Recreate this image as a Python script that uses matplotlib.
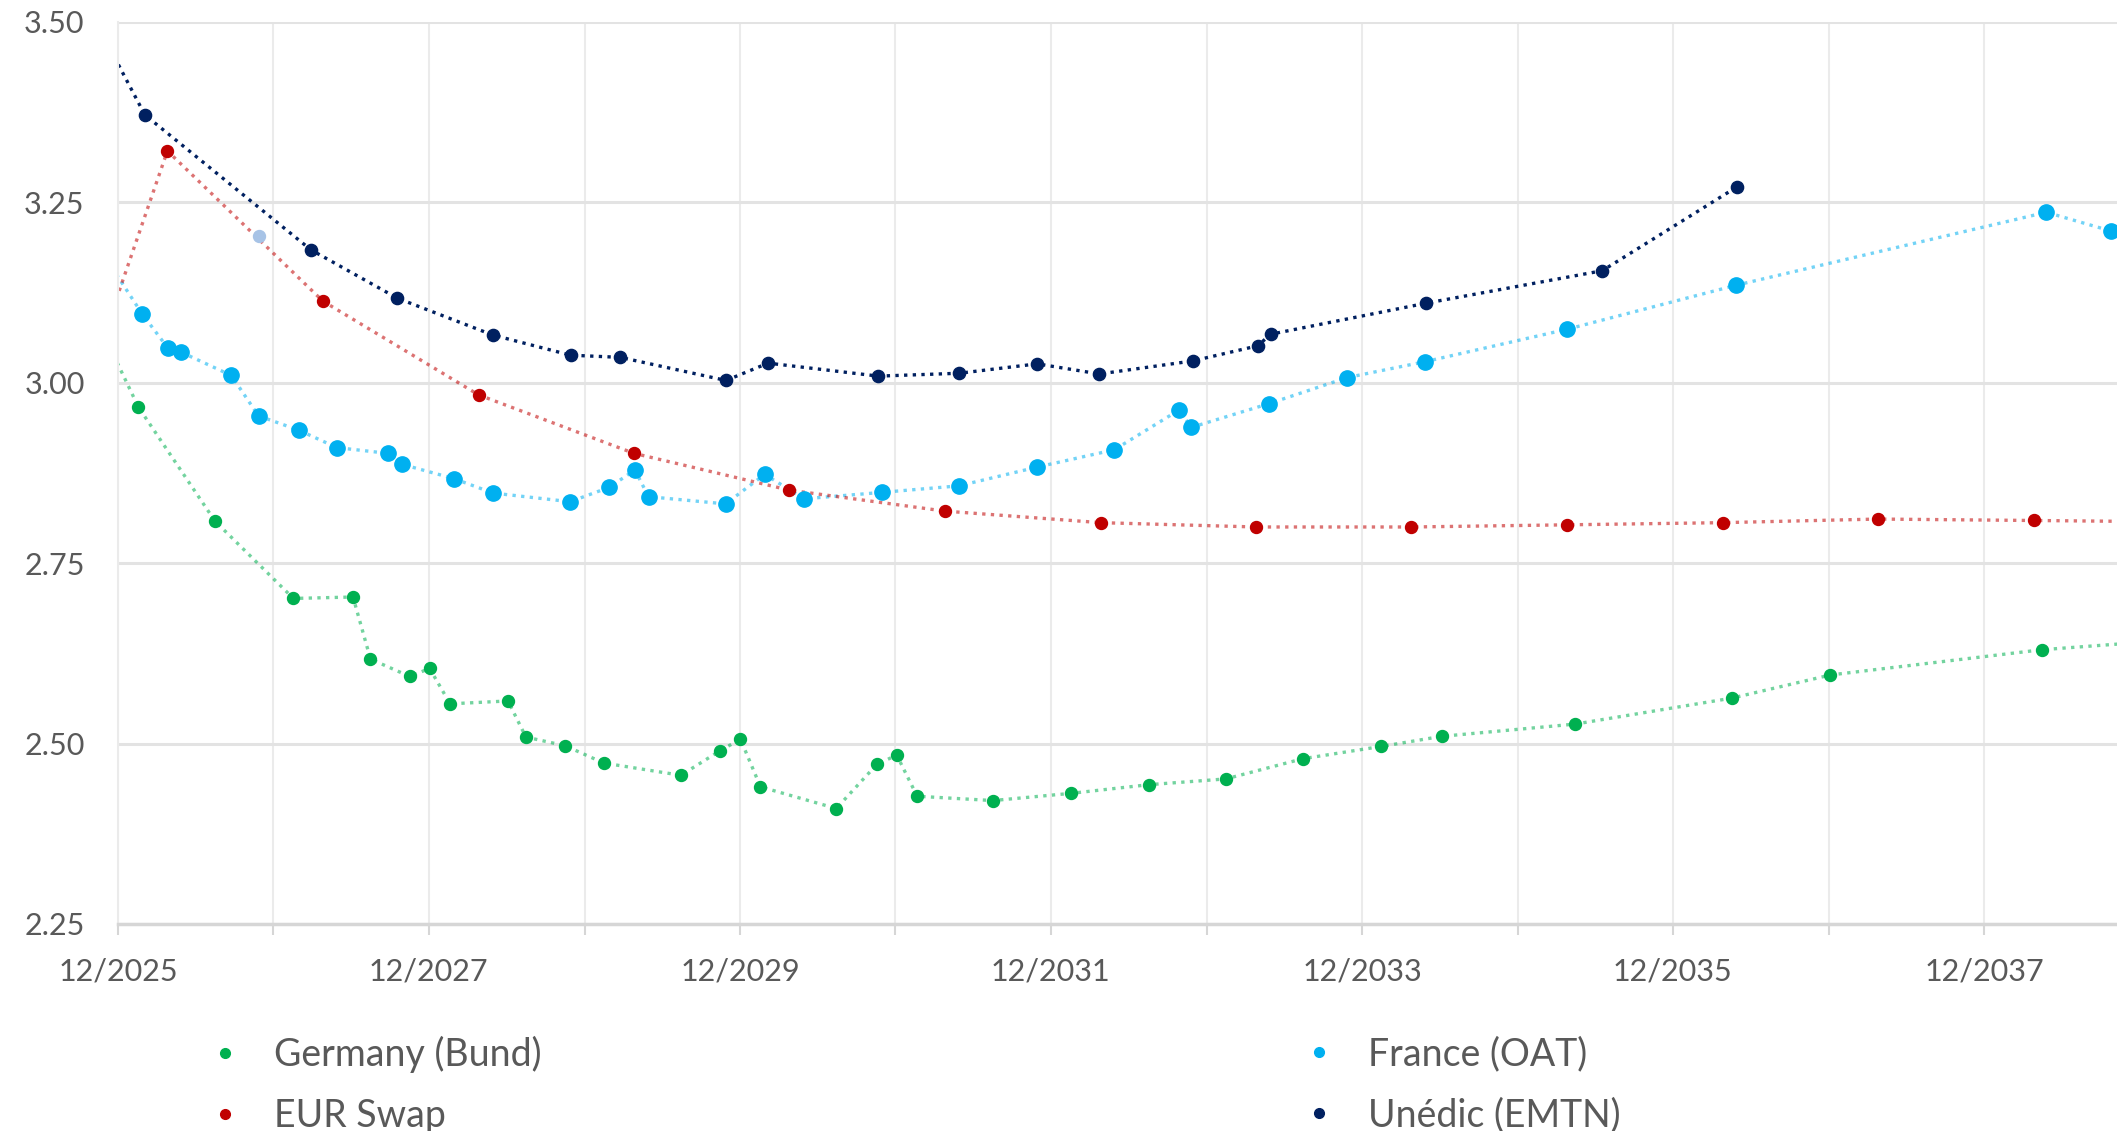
import matplotlib
matplotlib.use("Agg")
import matplotlib.pyplot as plt
import matplotlib.dates as mdates
from matplotlib.lines import Line2D
import pandas as pd

plt.rcParams["font.family"] = ["Lato", "DejaVu Sans"]

# courbes de taux (%)
bund_dates = ["2025-10-25", "2026-01-18", "2026-07-17", "2027-01-17", "2027-06-06", "2027-07-17",
              "2027-10-17", "2027-12-03", "2028-01-20", "2028-06-04", "2028-07-16", "2028-10-16",
              "2029-01-15", "2029-07-15", "2029-10-15", "2029-12-02", "2030-01-18", "2030-07-15",
              "2030-10-18", "2030-12-04", "2031-01-21", "2031-07-18", "2032-01-17", "2032-07-18",
              "2033-01-15", "2033-07-15", "2034-01-15", "2034-06-06", "2035-04-16", "2036-04-18",
              "2036-12-05", "2038-04-16", "2039-06-01"]
bund_yield = [3.071, 2.966, 2.808, 2.701, 2.703, 2.617, 2.593, 2.604, 2.555, 2.559, 2.509, 2.497,
              2.473, 2.456, 2.490, 2.506, 2.440, 2.410, 2.471, 2.484, 2.427, 2.421, 2.431, 2.443,
              2.451, 2.479, 2.496, 2.510, 2.527, 2.563, 2.595, 2.630, 2.648]

oat_dates = ["2025-10-25", "2026-01-27", "2026-03-28", "2026-04-29", "2026-08-24", "2026-10-27",
             "2027-01-30", "2027-04-29", "2027-08-27", "2027-09-28", "2028-01-29", "2028-04-30",
             "2028-10-28", "2029-01-28", "2029-03-29", "2029-04-30", "2029-10-28", "2030-01-28",
             "2030-04-30", "2030-10-31", "2031-04-29", "2031-10-30", "2032-04-28", "2032-09-27",
             "2032-10-26", "2033-04-27", "2033-10-27", "2034-04-28", "2035-03-28", "2036-04-28",
             "2038-04-26", "2038-09-25"]
oat_yield = [3.180, 3.095, 3.048, 3.042, 3.010, 2.954, 2.934, 2.910, 2.902, 2.887, 2.867, 2.847,
             2.835, 2.855, 2.879, 2.842, 2.832, 2.873, 2.839, 2.848, 2.857, 2.883, 2.907, 2.962,
             2.938, 2.971, 3.007, 3.029, 3.074, 3.135, 3.236, 3.210]

swap_dates = ["2025-10-25", "2026-03-27", "2027-03-27", "2028-03-27", "2029-03-27", "2030-03-27",
              "2031-03-27", "2032-03-27", "2033-03-27", "2034-03-27", "2035-03-27", "2036-03-27",
              "2037-03-27", "2038-03-27", "2039-03-27"]
swap_yield = [3.059, 3.321, 3.113, 2.983, 2.902, 2.851, 2.822, 2.806, 2.800, 2.800, 2.803, 2.806,
              2.811, 2.809, 2.807]

unedic_dates = ["2025-10-25", "2026-02-02", "2027-02-27", "2027-09-18", "2028-04-29", "2028-10-29",
                "2029-02-23", "2029-10-29", "2030-02-05", "2030-10-22", "2031-04-30", "2031-10-30",
                "2032-03-24", "2032-10-29", "2033-03-31", "2033-04-30", "2034-04-30", "2035-06-18",
                "2036-04-29"]
unedic_yield = [3.483, 3.371, 3.184, 3.117, 3.066, 3.038, 3.035, 3.003, 3.027, 3.009, 3.013, 3.026,
                3.012, 3.030, 3.051, 3.067, 3.110, 3.155, 3.271]

# point isolé (bleu pâle) sans légende
extra_date = ["2026-10-27"]
extra_yield = [3.203]

series = [
    ("Germany (Bund)", bund_dates, bund_yield, "#00B050", 0.55, 8.6),
    ("France (OAT)", oat_dates, oat_yield, "#00B0F0", 0.55, 11.0),
    ("EUR Swap", swap_dates, swap_yield, "#C00000", 0.55, 8.6),
    ("Unédic (EMTN)", unedic_dates, unedic_yield, "#002060", 1.0, 8.8),
]

fig = plt.figure(figsize=(21.17, 11.31), dpi=100)
ax = fig.add_axes([118 / 2117, 1 - 924 / 1131, 1 - 118 / 2117, (924 - 21.7) / 1131])

for name, d, y, col, a, ms in series:
    x = pd.to_datetime(d)
    ax.plot(x, y, color=col, alpha=a, lw=2.4, ls=(0, (1, 1.6)), zorder=2)
    ax.plot(x, y, ls="none", marker="o", ms=ms, color=col, mec=col, zorder=3)

ax.plot(pd.to_datetime(extra_date), extra_yield, ls="none", marker="o", ms=8.6,
        color="#A7C3E6", zorder=4)

x0 = pd.Timestamp("2025-12-01")
ax.set_xlim(x0, x0 + pd.Timedelta(days=4695))
ax.set_ylim(2.25, 3.50)
ax.set_yticks([2.25, 2.50, 2.75, 3.00, 3.25, 3.50])
ax.yaxis.set_major_formatter(plt.FuncFormatter(lambda v, p: f"{v:.2f}"))

ax.xaxis.set_major_locator(mdates.YearLocator(1, month=12, day=1))
ax.xaxis.set_major_formatter(plt.FuncFormatter(
    lambda v, p: mdates.num2date(v).strftime("12/%Y") if mdates.num2date(v).year % 2 == 1 else ""))

ax.grid(axis="y", color="#E3E3E3", lw=2.2, zorder=0)
ax.grid(axis="x", color="#EBEBEB", lw=1.5, zorder=0)
for s in ["top", "right"]:
    ax.spines[s].set_visible(False)
ax.spines["left"].set_color("#EBEBEB")
ax.spines["left"].set_linewidth(1.5)
ax.spines["bottom"].set_color("#D6D6D6")
ax.spines["bottom"].set_linewidth(2.5)
ax.set_axisbelow(True)

ax.tick_params(axis="y", length=0, pad=24, labelsize=22, labelcolor="#595959")
ax.tick_params(axis="x", length=8, width=1.5, color="#D6D6D6", pad=16, labelsize=22,
               labelcolor="#595959")

def handle(col):
    return Line2D([], [], ls="none", marker="o", ms=7, color=col)

leg_kw = dict(frameon=False, fontsize=27, labelcolor="#595959", handletextpad=0.8,
              labelspacing=0.67, handlelength=1.0, borderaxespad=0)
fig.legend([handle("#00B050"), handle("#C00000")], ["Germany (Bund)", "EUR Swap"],
           loc="upper left", bbox_to_anchor=(191 / 2117, 1 - 1021 / 1131), **leg_kw)
fig.legend([handle("#00B0F0"), handle("#002060")], ["France (OAT)", "Unédic (EMTN)"],
           loc="upper left", bbox_to_anchor=(1285 / 2117, 1 - 1021 / 1131), **leg_kw)

fig.savefig("out.png", dpi=100)
